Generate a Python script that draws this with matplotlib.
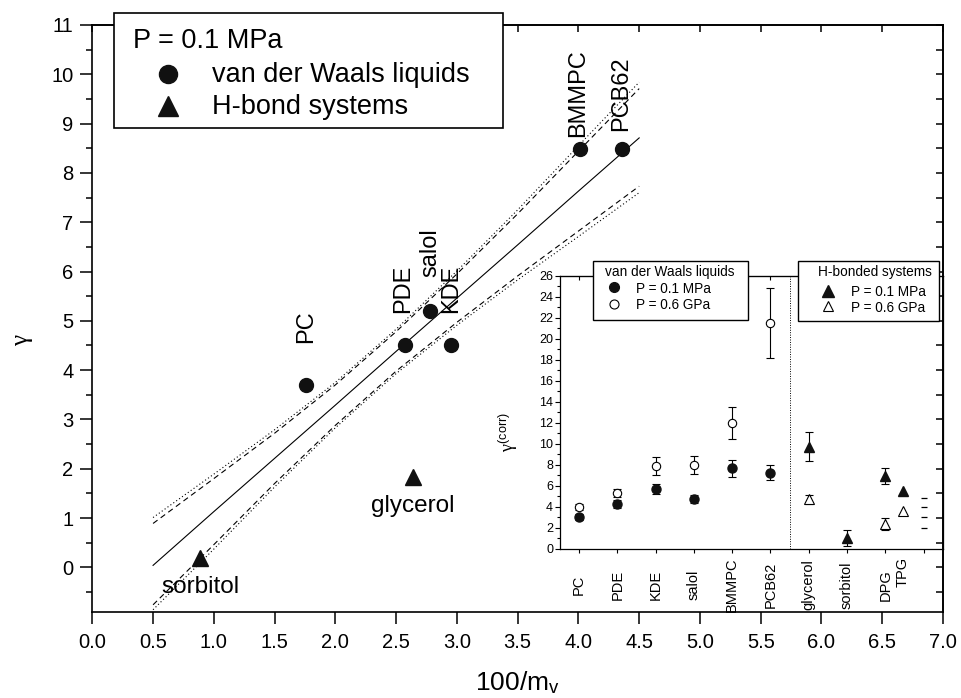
import numpy as np
import matplotlib
matplotlib.use('Agg')
import matplotlib.pyplot as plt
from matplotlib.patches import Rectangle
from matplotlib.lines import Line2D
from matplotlib.ticker import MultipleLocator, FormatStrFormatter

plt.rcParams['font.family'] = ['Liberation Sans', 'DejaVu Sans']
plt.rcParams['mathtext.fontset'] = 'custom'
plt.rcParams['mathtext.rm'] = 'Liberation Sans'
plt.rcParams['mathtext.it'] = 'Liberation Serif'
plt.rcParams['mathtext.bf'] = 'Liberation Sans:bold'

# ---------------- main plot data ----------------
vdw_names = ['PC', 'PDE', 'salol', 'KDE', 'BMMPC', 'PCB62']
vdw_x = [1.76, 2.57, 2.78, 2.95, 4.01, 4.36]
vdw_gamma = [3.70, 4.50, 5.19, 4.50, 8.49, 8.49]

hb_names = ['glycerol', 'sorbitol']
hb_x = [2.64, 0.89]
hb_gamma = [1.83, 0.18]

fit_x = [0.5, 1.0, 1.5, 2.0, 2.5, 3.0, 3.5, 4.0, 4.5]
fit_line = [0.04, 1.13, 2.21, 3.29, 4.38, 5.46, 6.54, 7.63, 8.71]
conf_upper = [0.89, 1.80, 2.72, 3.70, 4.78, 5.95, 7.17, 8.44, 9.71]
conf_lower = [-0.76, 0.46, 1.70, 2.88, 3.98, 4.97, 5.91, 6.82, 7.73]
conf2_upper = [1.01, 1.89, 2.79, 3.75, 4.83, 6.01, 7.25, 8.55, 9.84]
conf2_lower = [-0.86, 0.37, 1.63, 2.83, 3.93, 4.91, 5.83, 6.71, 7.60]

x_ticks = [0.0, 0.5, 1.0, 1.5, 2.0, 2.5, 3.0, 3.5, 4.0, 4.5, 5.0, 5.5, 6.0, 6.5, 7.0]
y_ticks = [0, 1, 2, 3, 4, 5, 6, 7, 8, 9, 10, 11]

# ---------------- inset data ----------------
inset_cats = ['PC', 'PDE', 'KDE', 'salol', 'BMMPC', 'PCB62', 'glycerol', 'sorbitol', 'DPG', '']
inset_pos = [1, 2, 3, 4, 5, 6, 7, 8, 9, 10]

vdw_pos = [1, 2, 3, 4, 5, 6]
vdw_low_p = [3.05, 4.25, 5.65, 4.78, 7.65, 7.25]
vdw_low_err = [0.30, 0.35, 0.48, 0.38, 0.78, 0.72]
vdw_high_p = [3.95, 5.33, 7.87, 7.95, 11.95, 21.50]
vdw_high_err = [0.30, 0.40, 0.84, 0.84, 1.52, 3.30]

hb_low_pos = [7, 8, 9, 9.45]
hb_low_p = [9.70, 0.98, 6.92, 5.52]
hb_low_err = [1.38, 0.76, 0.78, 0.0]
hb_high_pos = [7, 9, 9.45]
hb_high_p = [4.70, 2.35, 3.62]
hb_high_err = [0.45, 0.55, 0.0]

tpg_label = 'TPG'
tpg_pos = 9.45
extra_pos = 10
extra_marks = [4.86, 3.94, 2.98, 1.97]

# ---------------- figure ----------------
W, H = 961, 698
fig = plt.figure(figsize=(W / 100, H / 100), dpi=100)
fig.patch.set_facecolor('white')


def fx(px):
    return px / W


def fy(py):
    return 1 - py / H


ax = fig.add_axes([fx(92.3), fy(611.7), (943 - 92.3) / W, (611.7 - 25) / H])
ax.set_xlim(0, 7.0)
ax.set_ylim(-0.9, 11)

K = 'black'
ax.plot(fit_x, fit_line, color=K, lw=0.8, ls='-')
ax.plot(fit_x, conf_upper, color=K, lw=0.8, ls=(0, (5, 3.5)))
ax.plot(fit_x, conf_lower, color=K, lw=0.8, ls=(0, (5, 3.5)))
ax.plot(fit_x, conf2_upper, color=K, lw=0.8, ls=(0, (1, 2.2)))
ax.plot(fit_x, conf2_lower, color=K, lw=0.8, ls=(0, (1, 2.2)))

ax.plot(vdw_x, vdw_gamma, 'o', color='#111111', ms=10, ls='none', zorder=4)
ax.plot(hb_x, hb_gamma, '^', color='#111111', ms=11, ls='none', zorder=4)

# labels of points
lab_pos = {'PC': (1.76, 4.55), 'PDE': (2.56, 5.15), 'salol': (2.78, 5.89),
           'KDE': (2.95, 5.15), 'BMMPC': (4.00, 8.73), 'PCB62': (4.35, 8.86)}
for n in vdw_names:
    px_, py_ = lab_pos[n]
    ax.text(px_, py_, n, rotation=90, ha='center', va='bottom', fontsize=17)
hb_lab = {'glycerol': (2.64, 1.12), 'sorbitol': (0.89, -0.53)}
for n in hb_names:
    px_, py_ = hb_lab[n]
    ax.text(px_, py_, n, ha='center', va='baseline', fontsize=17.5)

ax.set_xticks(x_ticks)
ax.xaxis.set_major_formatter(FormatStrFormatter('%.1f'))
ax.set_yticks(y_ticks)
ax.yaxis.set_minor_locator(MultipleLocator(0.5))
ax.tick_params(axis='both', which='major', direction='out', length=8.5, width=1.1,
               labelsize=14.5)
ax.tick_params(axis='y', which='minor', direction='out', length=4.5, width=1.1)
ax.tick_params(axis='x', pad=6.5)
ax.tick_params(axis='y', pad=5)
for s in ax.spines.values():
    s.set_linewidth(1.2)

sec_top = ax.secondary_xaxis('top')
sec_top.set_xticks(x_ticks)
sec_top.tick_params(direction='in', length=5, width=1.1, labeltop=False)
sec_top.spines['top'].set_linewidth(1.2)
sec_right = ax.secondary_yaxis('right')
sec_right.set_yticks(np.arange(-0.5, 11.01, 0.5))
sec_right.tick_params(direction='in', length=5, width=1.1, labelright=False)
sec_right.spines['right'].set_linewidth(1.2)

ax.set_xlabel(r'100/m$_\mathrm{v}$', fontsize=19)
ax.xaxis.set_label_coords(0.5, -0.098)
ax.xaxis.label.set_va('top')
ax.set_ylabel('γ', fontsize=18, fontfamily='Liberation Serif')
ax.yaxis.label.set_va('center')
ax.yaxis.set_label_coords(-0.083, 0.462)

# main legend (manual)
fig.add_artist(Rectangle((fx(114), fy(128.3)), (503 - 114) / W, (128.3 - 12.7) / H,
                         transform=fig.transFigure, fc='white', ec='black', lw=1.2, zorder=5))
fig.text(fx(132.7), fy(48.3), 'P = 0.1 MPa', fontsize=19.5, va='baseline', zorder=6)
fig.add_artist(Line2D([fx(167.7)], [fy(74)], marker='o', ms=13, color='#111111',
                      ls='none', transform=fig.transFigure, zorder=6))
fig.text(fx(212), fy(81.7), 'van der Waals liquids', fontsize=19.5, va='baseline', zorder=6)
fig.add_artist(Line2D([fx(167.7)], [fy(106)], marker='^', ms=14, color='#111111',
                      ls='none', transform=fig.transFigure, zorder=6))
fig.text(fx(212), fy(114), 'H-bond systems', fontsize=19.5, va='baseline', zorder=6)

# ---------------- inset ----------------
ins = fig.add_axes([fx(560), fy(548.7), (942.7 - 560) / W, (548.7 - 275.7) / H])
ins.patch.set_alpha(0)
ins.set_xlim(0.5, 10.5)
ins.set_ylim(0, 26)

ek = dict(ecolor=K, elinewidth=0.8, capsize=3, capthick=0.8, fmt='none')
ins.errorbar(vdw_pos, vdw_low_p, yerr=vdw_low_err, **ek)
ins.errorbar(vdw_pos, vdw_high_p, yerr=vdw_high_err, **ek)
hl = [(p, v, e) for p, v, e in zip(hb_low_pos, hb_low_p, hb_low_err) if e > 0]
ins.errorbar([a for a, _, _ in hl], [b for _, b, _ in hl], yerr=[c for _, _, c in hl], **ek)
hh = [(p, v, e) for p, v, e in zip(hb_high_pos, hb_high_p, hb_high_err) if e > 0]
ins.errorbar([a for a, _, _ in hh], [b for _, b, _ in hh], yerr=[c for _, _, c in hh], **ek)

ins.plot(vdw_pos, vdw_low_p, 'o', color='#111111', ms=6.5, ls='none', zorder=4)
ins.plot(vdw_pos, vdw_high_p, 'o', mfc='white', mec=K, mew=0.8, ms=6, ls='none', zorder=4)
ins.plot(hb_low_pos, hb_low_p, '^', color='#111111', ms=7, ls='none', zorder=4)
ins.plot(hb_high_pos, hb_high_p, '^', mfc='white', mec=K, mew=0.8, ms=6.5, ls='none', zorder=4)
ins.plot([extra_pos] * len(extra_marks), extra_marks, '_', color=K, ms=5, mew=0.9, ls='none')

ins.axvline(6.5, color=K, lw=0.7, ls=(0, (1, 1.5)))

ins.set_xticks(inset_pos)
ins.set_xticklabels(inset_cats, rotation=90, fontsize=10.5)
for lb in ins.get_xticklabels():
    lb.set_va('center')
ins.tick_params(axis='x', direction='out', length=3, width=0.8, pad=23)
ins.text(tpg_pos, -0.084, tpg_label, rotation=90, ha='center', va='center', fontsize=10.5,
         transform=ins.get_xaxis_transform())
ins.set_yticks(np.arange(0, 26.1, 2))
ins.yaxis.set_minor_locator(MultipleLocator(1))
ins.tick_params(axis='y', which='major', direction='out', length=3.5, width=0.8, labelsize=9, pad=1.5)
ins.tick_params(axis='y', which='minor', direction='out', length=2, width=0.8)
for s in ins.spines.values():
    s.set_linewidth(0.9)
ins_top = ins.secondary_xaxis('top')
ins_top.set_xticks(inset_pos)
ins_top.tick_params(direction='in', length=3, width=0.8, labeltop=False)

ins.set_ylabel(r'$\gamma^{\mathrm{(corr)}}$', fontsize=13)
ins.yaxis.label.set_va('center')
ins.yaxis.set_label_coords(-0.136, 0.427)

# inset legends (manual)
fs_l = 9.8
fig.add_artist(Rectangle((fx(592.7), fy(320)), (748.3 - 592.7) / W, (320 - 260.7) / H,
                         transform=fig.transFigure, fc='white', ec='black', lw=1.0, zorder=5))
fig.text(fx(670), fy(275.5), 'van der Waals liquids', fontsize=fs_l, ha='center', va='baseline', zorder=6)
fig.add_artist(Line2D([fx(614)], [fy(286.7)], marker='o', ms=7, color='#111111', ls='none',
                      transform=fig.transFigure, zorder=6))
fig.text(fx(636), fy(292.7), 'P = 0.1 MPa', fontsize=fs_l, va='baseline', zorder=6)
fig.add_artist(Line2D([fx(614)], [fy(304.3)], marker='o', ms=6.5, mfc='white', mec=K, mew=0.8,
                      ls='none', transform=fig.transFigure, zorder=6))
fig.text(fx(636), fy(309), 'P = 0.6 GPa', fontsize=fs_l, va='baseline', zorder=6)

fig.add_artist(Rectangle((fx(798.3), fy(320.7)), (939.3 - 798.3) / W, (320.7 - 261) / H,
                         transform=fig.transFigure, fc='white', ec='black', lw=1.0, zorder=5))
fig.text(fx(875), fy(276), 'H-bonded systems', fontsize=fs_l, ha='center', va='baseline', zorder=6)
fig.add_artist(Line2D([fx(828.3)], [fy(290.7)], marker='^', ms=8, color='#111111', ls='none',
                      transform=fig.transFigure, zorder=6))
fig.text(fx(850.7), fy(296), 'P = 0.1 MPa', fontsize=fs_l, va='baseline', zorder=6)
fig.add_artist(Line2D([fx(828.3)], [fy(306)], marker='^', ms=7.5, mfc='white', mec=K, mew=0.8,
                      ls='none', transform=fig.transFigure, zorder=6))
fig.text(fx(850.7), fy(311.7), 'P = 0.6 GPa', fontsize=fs_l, va='baseline', zorder=6)

fig.savefig('out.png', dpi=100)
